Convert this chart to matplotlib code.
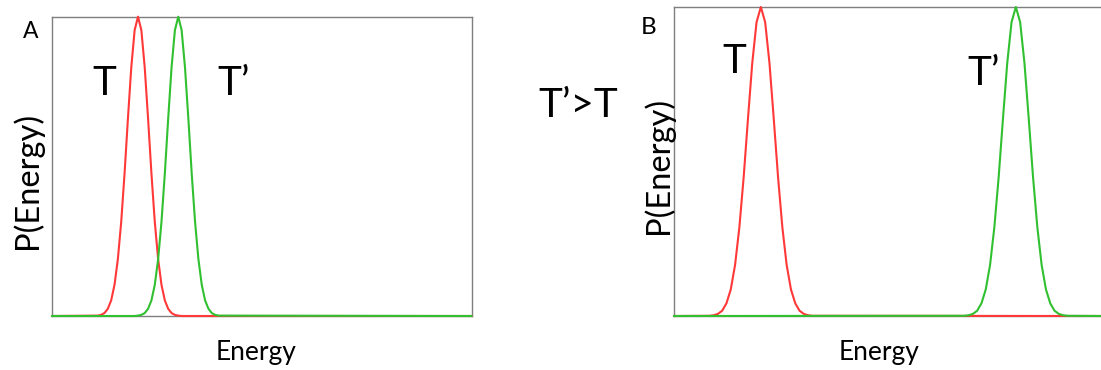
import matplotlib
matplotlib.use("Agg")
import matplotlib.pyplot as plt

plt.rcParams['font.family'] = ['Lato', 'DejaVu Sans']

# panel A: two nearby temperatures
energy_a = [0.0, 10.9, 11.7, 12.5, 13.3, 14.1, 14.9, 15.7, 16.5, 17.3, 18.1, 18.9,
            19.7, 20.5, 21.3, 22.1, 22.9, 23.7, 24.5, 25.3, 26.1, 26.9, 27.7, 28.5,
            29.3, 30.1, 30.9, 31.7, 32.5, 33.3, 34.1, 34.9, 35.7, 36.5, 37.3, 38.1,
            38.9, 39.7, 100.0]
p_t_a = [0.0, 0.0013, 0.0037, 0.0098, 0.024, 0.052, 0.104, 0.190, 0.315, 0.477,
         0.660, 0.831, 0.955, 1.0, 0.955, 0.831, 0.660, 0.477, 0.315, 0.190, 0.104,
         0.052, 0.024, 0.0098, 0.0037, 0.0013, 0.0, 0.0, 0.0, 0.0, 0.0, 0.0, 0.0,
         0.0, 0.0, 0.0, 0.0, 0.0, 0.0]
p_tp_a = [0.0, 0.0, 0.0, 0.0, 0.0, 0.0, 0.0, 0.0, 0.0, 0.0, 0.0, 0.0, 0.0,
          0.0013, 0.0037, 0.0098, 0.024, 0.052, 0.104, 0.190, 0.315, 0.477, 0.660,
          0.831, 0.955, 1.0, 0.955, 0.831, 0.660, 0.477, 0.315, 0.190, 0.104,
          0.052, 0.024, 0.0098, 0.0037, 0.0013, 0.0]

# panel B: temperatures far apart
energy_t_b = [0.0, 8.2, 9.2, 10.2, 11.2, 12.2, 13.2, 14.2, 15.2, 16.2, 17.2, 18.2,
              19.2, 20.2, 21.2, 22.2, 23.2, 24.2, 25.2, 26.2, 27.2, 28.2, 29.2,
              30.2, 31.2, 32.2, 100.0]
energy_tp_b = [0.0, 67.5, 68.5, 69.5, 70.5, 71.5, 72.5, 73.5, 74.5, 75.5, 76.5,
               77.5, 78.5, 79.5, 80.5, 81.5, 82.5, 83.5, 84.5, 85.5, 86.5, 87.5,
               88.5, 89.5, 90.5, 91.5, 100.0]
p_t_b = [0.0, 0.0007, 0.0024, 0.0067, 0.017, 0.041, 0.086, 0.165, 0.287, 0.449,
         0.638, 0.819, 0.951, 1.0, 0.951, 0.819, 0.638, 0.449, 0.287, 0.165,
         0.086, 0.041, 0.017, 0.0067, 0.0024, 0.0007, 0.0]
p_tp_b = [0.0, 0.0007, 0.0024, 0.0067, 0.017, 0.041, 0.086, 0.165, 0.287, 0.449,
          0.638, 0.819, 0.951, 1.0, 0.951, 0.819, 0.638, 0.449, 0.287, 0.165,
          0.086, 0.041, 0.017, 0.0067, 0.0024, 0.0007, 0.0]

RED = '#ff3838'
GREEN = '#30c030'
W, H = 1101, 370

fig = plt.figure(figsize=(W / 100, H / 100), dpi=100)


def px(x, y):
    return x / W, 1 - y / H


def setup(ax):
    ax.set_xlim(0, 100)
    ax.set_ylim(0, 1)
    ax.set_xticks([])
    ax.set_yticks([])
    for s in ax.spines.values():
        s.set_color('#7f7f7f')
        s.set_linewidth(1.0)


ax_a = fig.add_axes([52 / W, 1 - 316 / H, 419.5 / W, (316 - 16.7) / H])
setup(ax_a)
ax_a.plot(energy_a, p_t_a, color=RED, lw=1.5, clip_on=False, zorder=3)
ax_a.plot(energy_a, p_tp_a, color=GREEN, lw=1.5, clip_on=False, zorder=3)

ax_b = fig.add_axes([674 / W, 1 - 316 / H, 430 / W, (316 - 7) / H])
setup(ax_b)
ax_b.plot(energy_t_b, p_t_b, color=RED, lw=1.5, clip_on=False, zorder=3)
ax_b.plot(energy_tp_b, p_tp_b, color=GREEN, lw=1.5, clip_on=False, zorder=3)

# labels
fig.text(*px(31, 38.3), 'A', fontsize=16.5, ha='center', va='baseline')
fig.text(*px(649, 34), 'B', fontsize=17.5, ha='center', va='baseline')
fig.text(*px(104, 95), 'T', fontsize=29, ha='center', va='baseline')
fig.text(*px(217, 95), 'T’', fontsize=29, ha='left', va='baseline')
fig.text(*px(734, 73), 'T', fontsize=29, ha='center', va='baseline')
fig.text(*px(967, 85), 'T’', fontsize=29, ha='left', va='baseline')
fig.text(*px(538, 117), 'T’>T', fontsize=29, ha='left', va='baseline')

fig.text(*px(256.5, 360), 'Energy', fontsize=19, ha='center', va='baseline')
fig.text(*px(879, 360), 'Energy', fontsize=19, ha='center', va='baseline')
fig.text(*px(36.7, 180), 'P(Energy)', fontsize=23.5, rotation=90,
         rotation_mode='anchor', ha='center', va='baseline')
fig.text(*px(668, 165), 'P(Energy)', fontsize=23.5, rotation=90,
         rotation_mode='anchor', ha='center', va='baseline')

fig.savefig('out.png', dpi=100)
